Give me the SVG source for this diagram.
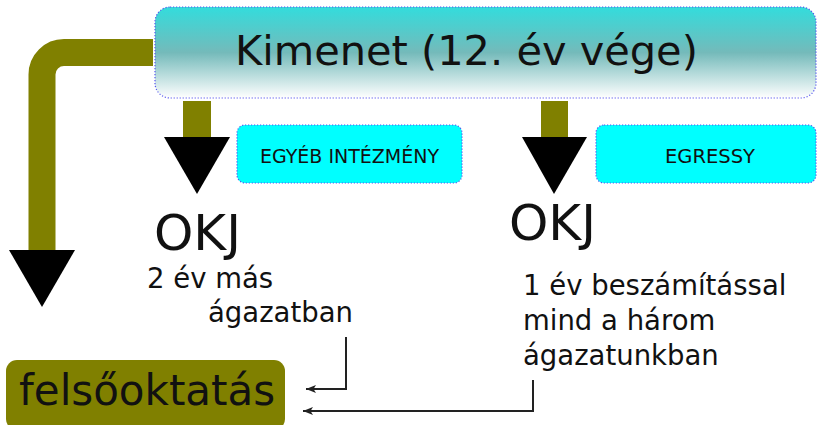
<svg xmlns="http://www.w3.org/2000/svg" width="818" height="425" viewBox="0 0 818 425">
<style>
text{font-family:"DejaVu Sans","Liberation Sans",sans-serif;fill:#111}
.box{fill:#00ffff;stroke:#5555ee;stroke-width:1.2;stroke-dasharray:1.2 1.8}
.olive{fill:#808000}
.head{fill:#000}
.thin{fill:none;stroke:#222;stroke-width:2}
</style>
<defs>
<linearGradient id="g" x1="0" y1="0" x2="0" y2="1">
<stop offset="0" stop-color="#33dcdc"/>
<stop offset="0.5" stop-color="#74baba"/>
<stop offset="1" stop-color="#ffffff"/>
</linearGradient>
<marker id="ah" viewBox="0 0 10 8" refX="10" refY="4" markerWidth="10" markerHeight="8" markerUnits="userSpaceOnUse" orient="auto">
<path d="M0 0L10 4L0 8L2.5 4Z" fill="#222"/>
</marker>
</defs>
<g id="connectors">
<path d="M153 52.5H64A22 22 0 0 0 42 74.5V251" fill="none" stroke="#808000" stroke-width="27"/>
<polygon class="head" points="9,250 75,250 42,307"/>
<rect class="olive" x="183" y="101" width="28" height="37"/>
<polygon class="head" points="164,137 230,137 197,194"/>
<rect class="olive" x="541" y="101" width="27" height="37"/>
<polygon class="head" points="522,137 587,137 554,194"/>
<path class="thin" d="M346 337V389H306" marker-end="url(#ah)"/>
<path class="thin" d="M533 380V411H303" marker-end="url(#ah)"/>
</g>
<g id="kimenet">
<rect x="155" y="7" width="661" height="91" rx="15" fill="url(#g)" stroke="#5555ee" stroke-width="1.2" stroke-dasharray="1.2 1.8"/>
<text x="235" y="65" font-size="41.5">Kimenet (12. év vége)</text>
</g>
<g id="egyeb">
<rect class="box" x="237" y="125" width="225" height="58" rx="8"/>
<text x="349.5" y="163" font-size="19" text-anchor="middle">EGYÉB INTÉZMÉNY</text>
</g>
<g id="egressy">
<rect class="box" x="596" y="125" width="220" height="58" rx="8"/>
<text x="710" y="163" font-size="19.5" text-anchor="middle">EGRESSY</text>
</g>
<g id="okj1">
<text x="154" y="250" font-size="50">OKJ</text>
<text x="147" y="288" font-size="27.5">2 év más</text>
<text x="208" y="322" font-size="27.5">ágazatban</text>
</g>
<g id="okj2">
<text x="509" y="240" font-size="50">OKJ</text>
<text x="523" y="295" font-size="27.5">1 év beszámítással</text>
<text x="523" y="330" font-size="27.5">mind a három</text>
<text x="523" y="365" font-size="27.5">ágazatunkban</text>
</g>
<g id="felsooktatas">
<rect x="6" y="360" width="279" height="70" rx="11" class="olive"/>
<text x="19" y="405" font-size="42">felsőoktatás</text>
</g>
</svg>
